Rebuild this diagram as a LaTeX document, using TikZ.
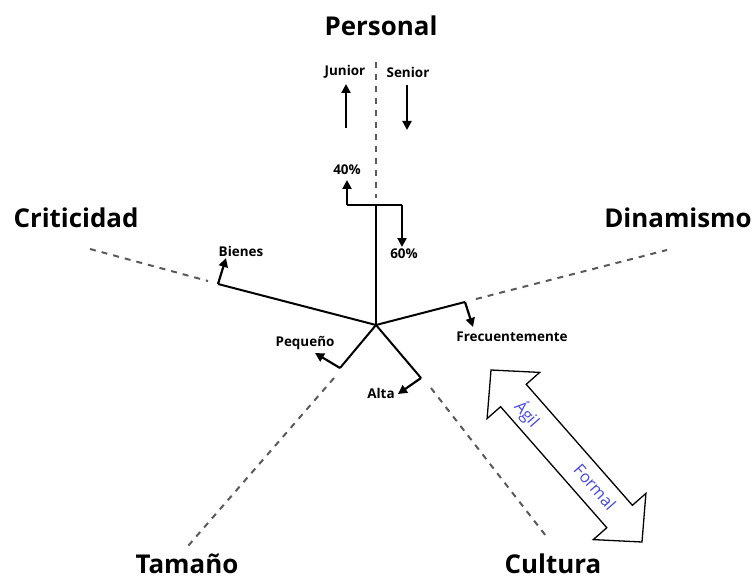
\documentclass[tikz,border=0pt]{standalone}
\usepackage{fontspec}
\setmainfont{Open Sans}
\usetikzlibrary{arrows.meta}
\definecolor{dashgray}{RGB}{90,90,90}
\definecolor{labblue}{RGB}{72,72,230}
\begin{document}
\begin{tikzpicture}[x=1bp,y=-1bp,
  axisline/.style={draw=dashgray, line width=2bp, dash pattern=on 6bp off 6bp},
  dataline/.style={draw=black, line width=2bp},
  ptr/.style={draw=black, line width=2.2bp, -{Triangle[length=9bp,width=9bp]}},
  title/.style={font=\bfseries\fontsize{26}{30}\selectfont, inner sep=0pt},
  lab/.style={font=\bfseries\fontsize{13.5}{16}\selectfont, inner sep=0pt},
  bluelab/.style={text=labblue, font=\fontsize{16.5}{19}\selectfont, rotate=-48.7, inner sep=0pt}]
\useasboundingbox (0,0) rectangle (755,579);

% centre and data points
\coordinate (c) at (376,325);
\coordinate (p) at (376,205);
\coordinate (pl) at (347,205);
\coordinate (pr) at (402,205);
\coordinate (plt) at (347,180);
\coordinate (prt) at (402,247);
\coordinate (b) at (218,284);
\coordinate (bt) at (226,258);
\coordinate (d) at (465,302);
\coordinate (dt) at (473,327);
\coordinate (t) at (340,368);
\coordinate (tt) at (315,353);
\coordinate (a) at (421,378);
\coordinate (at2) at (398,394);

% dashed axes
\coordinate (ax1s) at (376,62);  \coordinate (ax1e) at (376,198);
\coordinate (ax2s) at (90,249);  \coordinate (ax2e) at (208,281);
\coordinate (ax3s) at (476,299); \coordinate (ax3e) at (667,250);
\coordinate (ax4s) at (334,378); \coordinate (ax4e) at (188,546);
\coordinate (ax5s) at (431,388); \coordinate (ax5e) at (546,536);
\draw[axisline] (ax1s) -- (ax1e);
\draw[axisline] (ax2s) -- (ax2e);
\draw[axisline] (ax3s) -- (ax3e);
\draw[axisline] (ax4s) -- (ax4e);
\draw[axisline] (ax5s) -- (ax5e);

% data lines
\draw[dataline] (c) -- (p);
\draw[dataline] (pl) -- (pr);
\draw[ptr] (pl) -- (plt);
\draw[ptr] (pr) -- (prt);
\draw[dataline] (c) -- (b);
\draw[ptr] (b) -- (bt);
\draw[dataline] (c) -- (d);
\draw[ptr] (d) -- (dt);
\draw[dataline] (c) -- (t);
\draw[ptr] (t) -- (tt);
\draw[dataline] (c) -- (a);
\draw[ptr] (a) -- (at2);

% Junior / Senior arrows
\coordinate (js) at (346,128); \coordinate (je) at (346,84);
\coordinate (ss) at (407,85);  \coordinate (se) at (407,130);
\draw[ptr] (js) -- (je);
\draw[ptr] (ss) -- (se);

% titles
\node[title] (personal) at (381,26) {Personal};
\node[title] (criticidad) at (76,218) {Criticidad};
\node[title] (dinamismo) at (678,218) {Dinamismo};
\node[title] (tamano) at (187,564) {Tamaño};
\node[title] (cultura) at (553,564) {Cultura};

% small labels
\node[lab] (junior) at (345,72) {Junior};
\node[lab] (senior) at (408,72) {Senior};
\node[lab] (p40) at (347,170) {40\%};
\node[lab] (p60) at (404,254) {60\%};
\node[lab] (bienes) at (241,251) {Bienes};
\node[lab] (frec) at (512,337) {Frecuentemente};
\node[lab] (peq) at (305,343) {Pequeño};
\node[lab] (alta) at (381,393) {Alta};

% big double arrow
\draw[line width=1.3bp, fill=white]
  (491,370) -- (539.7,372.4) -- (526.2,384.3) -- (632.4,505.3) -- (645.9,493.4)
  -- (642,542) -- (593.3,539.6) -- (606.8,527.7) -- (500.6,406.7) -- (487.1,418.6) -- cycle;
\node[bluelab] (agil) at (527,414) {Ágil};
\node[bluelab] (formal) at (595,487) {Formal};
\end{tikzpicture}
\end{document}
